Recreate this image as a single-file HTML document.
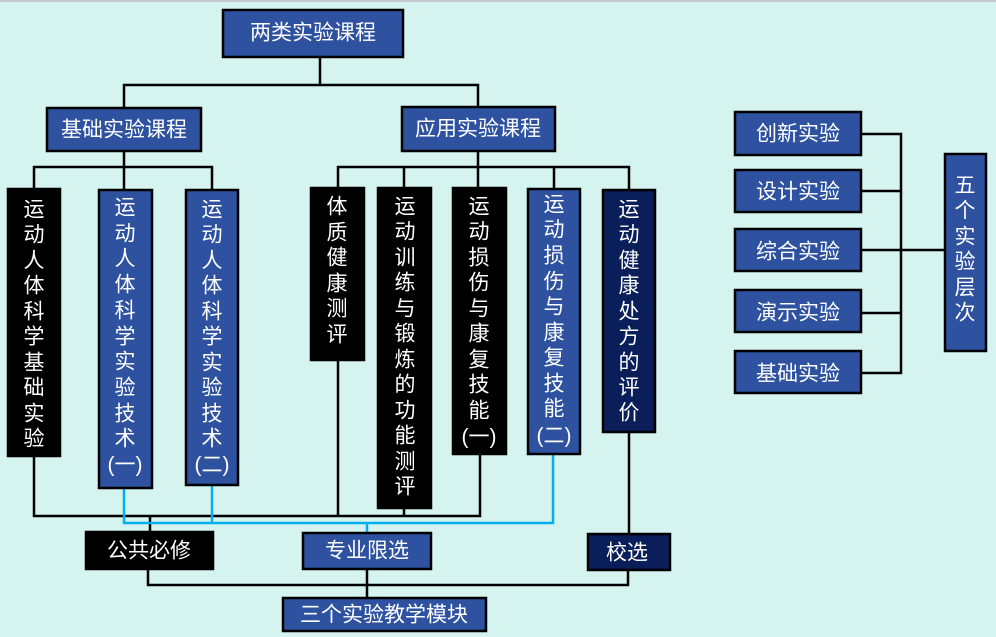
<!DOCTYPE html>
<html><head><meta charset="utf-8"><style>
html,body{margin:0;padding:0;background:#d5f3ef;}
svg{display:block;}
text{font-family:"Liberation Sans","Noto Sans CJK SC",sans-serif;fill:#fff;font-size:21px;text-anchor:middle;dominant-baseline:central;}
.b{fill:#2e52a0;stroke:#000;stroke-width:2.5;}
.k{fill:#000;stroke:#000;stroke-width:2.5;}
.n{fill:#0a1e5a;stroke:#000;stroke-width:2.5;}
.l{stroke:#000;stroke-width:2.5;fill:none;}
.c{stroke:#00b0f0;stroke-width:2.5;fill:none;}
</style></head><body>
<svg width="996" height="637" viewBox="0 0 996 637">
<rect x="0" y="0" width="996" height="637" fill="#d5f3ef"/>
<line x1="0" y1="1" x2="996" y2="1" stroke="#c8c8d0" stroke-width="2"/>
<polyline class="l" points="320,57 320,85"/>
<polyline class="l" points="124,108 124,85 478,85 478,107"/>
<polyline class="l" points="124,151 124,190"/>
<polyline class="l" points="34,189 34,167 212,167 212,190"/>
<polyline class="l" points="478,151 478,188"/>
<polyline class="l" points="338,188 338,167 629,167 629,190"/>
<line class="l" x1="404" y1="167" x2="404" y2="188"/>
<line class="l" x1="554" y1="167" x2="554" y2="189"/>
<polyline class="l" points="34,456 34,516 480,516 480,454"/>
<line class="l" x1="338" y1="360" x2="338" y2="516"/>
<line class="l" x1="404" y1="508" x2="404" y2="516"/>
<line class="l" x1="150" y1="516" x2="150" y2="533"/>
<polyline class="c" points="124,488 124,523 553,523 553,454"/>
<line class="c" x1="212" y1="485" x2="212" y2="523"/>
<line class="c" x1="367" y1="523" x2="367" y2="533"/>
<line class="l" x1="629" y1="432" x2="629" y2="534"/>
<polyline class="l" points="148,569 148,585 628,585 628,570"/>
<line class="l" x1="367" y1="569" x2="367" y2="598"/>
<polyline class="l" points="861,134 901,134 901,373 861,373"/>
<line class="l" x1="861" y1="191" x2="901" y2="191"/>
<line class="l" x1="861" y1="250" x2="945" y2="250"/>
<line class="l" x1="861" y1="313" x2="901" y2="313"/>
<rect class="b" x="223" y="10" width="180" height="47"/><text x="313" y="33">两类实验课程</text>
<rect class="b" x="47" y="108" width="154" height="43"/><text x="124" y="130">基础实验课程</text>
<rect class="b" x="402" y="107" width="153" height="44"/><text x="478" y="129">应用实验课程</text>
<rect class="k" x="8" y="189" width="52" height="267"/>
<text x="34" y="210">运</text><text x="34" y="235">动</text><text x="34" y="261">人</text><text x="34" y="286">体</text><text x="34" y="312">科</text><text x="34" y="337">学</text><text x="34" y="363">基</text><text x="34" y="388">础</text><text x="34" y="414">实</text><text x="34" y="439">验</text>
<rect class="b" x="99" y="190" width="53" height="298"/>
<text x="125" y="208">运</text><text x="125" y="234">动</text><text x="125" y="259">人</text><text x="125" y="285">体</text><text x="125" y="311">科</text><text x="125" y="337">学</text><text x="125" y="362">实</text><text x="125" y="388">验</text><text x="125" y="414">技</text><text x="125" y="439">术</text><text x="125" y="465">(一)</text>
<rect class="b" x="186" y="190" width="52" height="295"/>
<text x="212" y="210">运</text><text x="212" y="235">动</text><text x="212" y="261">人</text><text x="212" y="286">体</text><text x="212" y="312">科</text><text x="212" y="337">学</text><text x="212" y="363">实</text><text x="212" y="388">验</text><text x="212" y="414">技</text><text x="212" y="439">术</text><text x="212" y="465">(二)</text>
<rect class="k" x="311" y="188" width="53" height="172"/>
<text x="337" y="207">体</text><text x="337" y="233">质</text><text x="337" y="258">健</text><text x="337" y="284">康</text><text x="337" y="309">测</text><text x="337" y="335">评</text>
<rect class="k" x="378" y="188" width="53" height="320"/>
<text x="405" y="207">运</text><text x="405" y="232">动</text><text x="405" y="258">训</text><text x="405" y="283">练</text><text x="405" y="309">与</text><text x="405" y="334">锻</text><text x="405" y="360">炼</text><text x="405" y="385">的</text><text x="405" y="411">功</text><text x="405" y="436">能</text><text x="405" y="462">测</text><text x="405" y="487">评</text>
<rect class="k" x="453" y="188" width="53" height="266"/>
<text x="479" y="207">运</text><text x="479" y="232">动</text><text x="479" y="258">损</text><text x="479" y="283">伤</text><text x="479" y="309">与</text><text x="479" y="334">康</text><text x="479" y="360">复</text><text x="479" y="385">技</text><text x="479" y="411">能</text><text x="479" y="437">(一)</text>
<rect class="b" x="528" y="189" width="52" height="265"/>
<text x="554" y="205">运</text><text x="554" y="230">动</text><text x="554" y="256">损</text><text x="554" y="282">伤</text><text x="554" y="307">与</text><text x="554" y="333">康</text><text x="554" y="358">复</text><text x="554" y="384">技</text><text x="554" y="409">能</text><text x="554" y="436">(二)</text>
<rect class="n" x="603" y="190" width="52" height="242"/>
<text x="629" y="210">运</text><text x="629" y="235">动</text><text x="629" y="261">健</text><text x="629" y="286">康</text><text x="629" y="312">处</text><text x="629" y="337">方</text><text x="629" y="363">的</text><text x="629" y="388">评</text><text x="629" y="413">价</text>
<rect class="k" x="86" y="532" width="127" height="37"/><text x="149" y="551">公共必修</text>
<rect class="b" x="303" y="533" width="128" height="36"/><text x="367" y="551">专业限选</text>
<rect class="n" x="588" y="534" width="82" height="36"/><text x="627" y="553">校选</text>
<rect class="b" x="283" y="598" width="203" height="33"/><text x="384" y="615">三个实验教学模块</text>
<rect class="b" x="735" y="112" width="126" height="43"/><text x="798" y="134">创新实验</text>
<rect class="b" x="735" y="170" width="126" height="42"/><text x="798" y="192">设计实验</text>
<rect class="b" x="735" y="229" width="126" height="42"/><text x="798" y="252">综合实验</text>
<rect class="b" x="735" y="290" width="126" height="42"/><text x="798" y="313">演示实验</text>
<rect class="b" x="735" y="351" width="126" height="42"/><text x="798" y="374">基础实验</text>
<rect class="b" x="945" y="154" width="41" height="197"/>
<text x="965" y="186">五</text><text x="965" y="211">个</text><text x="965" y="237">实</text><text x="965" y="262">验</text><text x="965" y="288">层</text><text x="965" y="313">次</text>
</svg>
</body></html>
